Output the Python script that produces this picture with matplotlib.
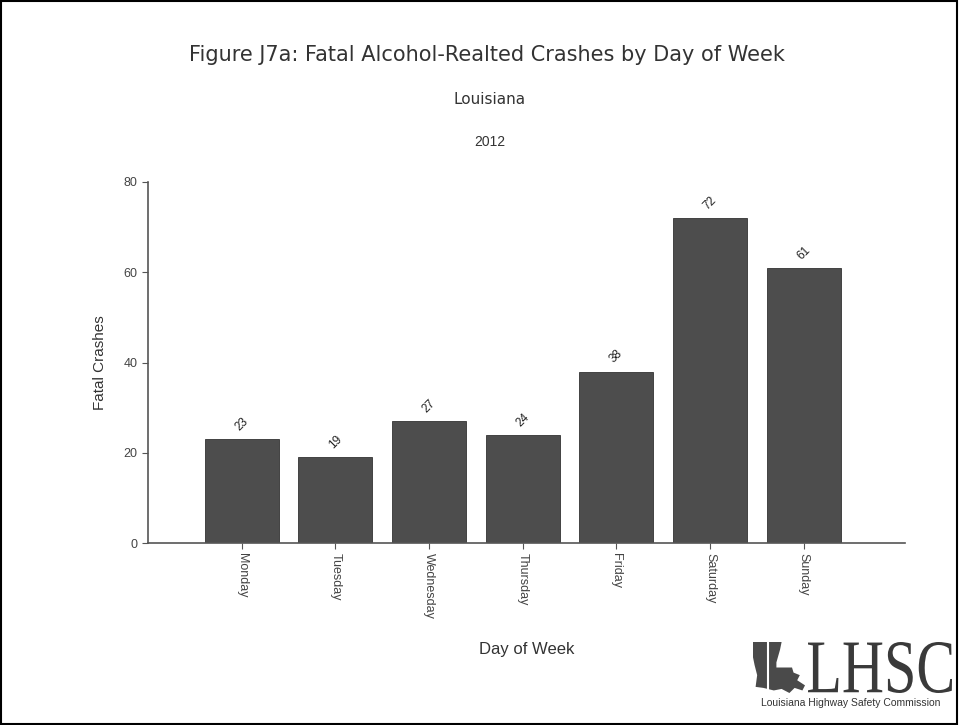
import matplotlib.pyplot as plt
from matplotlib.patches import Rectangle, PathPatch, Polygon
from matplotlib.textpath import TextPath
from matplotlib.font_manager import FontProperties
from matplotlib.transforms import Affine2D

days = ['Monday', 'Tuesday', 'Wednesday', 'Thursday', 'Friday', 'Saturday', 'Sunday']
crashes = [23, 19, 27, 24, 38, 72, 61]
yticks = [0, 20, 40, 60, 80]

plt.rcParams['font.family'] = ['Liberation Sans', 'DejaVu Sans']

W, H = 959, 725
fig = plt.figure(figsize=(W / 100, H / 100), dpi=100)
ax = fig.add_axes([148 / W, 1 - 543 / H, (905 - 148) / W, (543 - 182) / H])

x = range(len(days))
ax.bar(x, crashes, width=0.79, color='#4d4d4d', edgecolor='#333333', linewidth=0.6)
for xi, v in zip(x, crashes):
    ax.text(xi, v + 3.3, str(v), rotation=45, ha='center', va='center', fontsize=8.5, color='#222222')

ax.set_xlim(-1, 7.08)
ax.set_ylim(0, 80)
ax.set_yticks(yticks)
ax.set_xticks(list(x))
ax.set_xticklabels(days, rotation=-90, fontsize=9, color='#444444')
ax.tick_params(axis='y', labelsize=9, labelcolor='#444444', length=4, color='#555555')
ax.tick_params(axis='x', length=4, color='#555555')
for s in ['top', 'right']:
    ax.spines[s].set_visible(False)
for s in ['left', 'bottom']:
    ax.spines[s].set_color('#555555')
    ax.spines[s].set_linewidth(1.2)

ax.set_ylabel('Fatal Crashes', fontsize=11, color='#333333', labelpad=12)
ax.set_xlabel('Day of Week', fontsize=12, color='#333333', labelpad=16)

fig.text(0.508, 1 - 55 / H, 'Figure J7a: Fatal Alcohol-Realted Crashes by Day of Week',
         ha='center', va='center', fontsize=15, family='DejaVu Sans', color='#333333')
fig.text(0.511, 1 - 100 / H, 'Louisiana', ha='center', va='center', fontsize=11,
         family='DejaVu Sans', color='#333333')
fig.text(0.511, 1 - 142 / H, '2012', ha='center', va='center', fontsize=10, color='#333333')

# logo, drawn in pixel coordinates
lax = fig.add_axes([0, 0, 1, 1], facecolor='none')
lax.set_xlim(0, W)
lax.set_ylim(H, 0)
lax.axis('off')

tp = TextPath((0, 0), 'LHSC', size=1, prop=FontProperties(family='Liberation Serif'))
bb = tp.get_extents()
sx = (952 - 808) / bb.width
sy = (693 - 642) / bb.height
tr = Affine2D().translate(-bb.x0, -bb.y0).scale(sx, -sy).translate(808, 693)
lax.add_patch(PathPatch(tr.transform_path(tp), facecolor='#3a3a3a', edgecolor='none'))

state = [(0, 1), (0.55, 1), (0.52, 0.85), (0.45, 0.6), (0.45, 0.5), (0.75, 0.5),
         (0.78, 0.4), (0.9, 0.35), (0.85, 0.25), (1, 0.15), (0.95, 0.05), (0.8, 0.1),
         (0.7, 0.0), (0.55, 0.08), (0.4, 0.05), (0.2, 0.1), (0.05, 0.12), (0.08, 0.35),
         (0.03, 0.55), (0.0, 0.7)]
pts = [(753 + px * 52, 693 - py * 51) for px, py in state]
lax.add_patch(Polygon(pts, closed=True, facecolor='#4a4a4a', edgecolor='none'))
lax.plot([768, 768], [642, 693], color='white', lw=1.5)

lax.text(851, 703, 'Louisiana Highway Safety Commission', ha='center', va='center',
         fontsize=7.5, color='#333333')

fig.patches.append(Rectangle((0.001, 0.001), 0.997, 0.997, transform=fig.transFigure,
                             fill=False, edgecolor='black', linewidth=1.5))

fig.savefig('out.png', dpi=100)
